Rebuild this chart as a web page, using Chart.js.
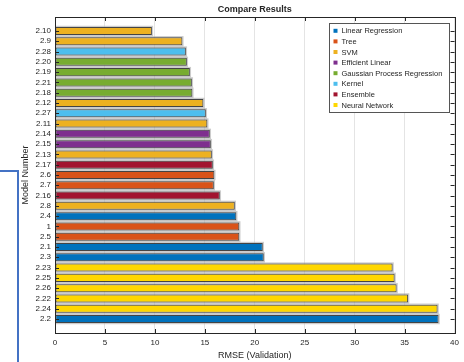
<!DOCTYPE html>
<html>
<head>
<meta charset="utf-8">
<title>Compare Results</title>
<script src="https://cdn.jsdelivr.net/npm/chart.js@4.4.1/dist/chart.umd.min.js"></script>
<style>
  html, body { margin: 0; padding: 0; background: #ffffff; }
  #c { display: block; }
</style>
</head>
<body>
<canvas id="c" width="464" height="362"></canvas>
<script>
// Model numbers, top to bottom
const categories = ['2.10', '2.9', '2.28', '2.20', '2.19', '2.21', '2.18', '2.12', '2.27', '2.11',
  '2.14', '2.15', '2.13', '2.17', '2.6', '2.7', '2.16', '2.8', '2.4', '1',
  '2.5', '2.1', '2.3', '2.23', '2.25', '2.26', '2.22', '2.24', '2.2'];

// Validation RMSE of each model
const rmse = [9.7, 12.75, 13.1, 13.2, 13.5, 13.7, 13.75, 14.85, 15.1, 15.25,
  15.5, 15.6, 15.7, 15.8, 15.95, 15.9, 16.5, 18.0, 18.15, 18.45,
  18.45, 20.8, 20.9, 33.8, 34.0, 34.2, 35.35, 38.3, 38.4];

// Model family of each model (index into modelTypes)
const modelTypeOf = [2, 2, 5, 4, 4, 4, 4, 2, 5, 2,
  3, 3, 2, 6, 1, 1, 6, 2, 0, 1,
  1, 0, 0, 7, 7, 7, 7, 7, 0];

const modelTypes = ['Linear Regression', 'Tree', 'SVM', 'Efficient Linear',
  'Gaussian Process Regression', 'Kernel', 'Ensemble', 'Neural Network'];
const typeColors = ['#0072BD', '#D95319', '#EDB120', '#7E2F8E',
  '#77AC30', '#4DBEEE', '#A2142F', '#FFD700'];

// X axis ticks
const xTicks = [0, 5, 10, 15, 20, 25, 30, 35, 40];

const FONT = "'Liberation Sans', Arial, Helvetica, sans-serif";
const INK = '#262626';

// One dataset per model family; each holds only its own models
const datasets = modelTypes.map((name, t) => ({
  label: name,
  data: categories
    .map((c, i) => ({ x: rmse[i], y: i + 1, t: modelTypeOf[i] }))
    .filter(p => p.t === t)
    .map(p => ({ x: p.x, y: p.y })),
  backgroundColor: typeColors[t],
  borderColor: 'rgba(45,45,45,0.85)',
  borderWidth: 1,
  borderSkipped: false,
  categoryPercentage: 1,
  barPercentage: 0.78
}));

// Light grey halo around each bar
const barHalo = {
  id: 'barHalo',
  beforeDatasetsDraw(chart) {
    const ctx = chart.ctx;
    ctx.save();
    ctx.fillStyle = 'rgba(170,170,170,0.6)';
    chart.data.datasets.forEach((ds, di) => {
      const meta = chart.getDatasetMeta(di);
      meta.data.forEach(bar => {
        const p = bar.getProps(['x', 'y', 'base', 'height'], true);
        const x0 = Math.min(p.base, p.x), x1 = Math.max(p.base, p.x);
        ctx.fillRect(x0, p.y - p.height / 2 - 1.2, x1 - x0 + 1.2, p.height + 2.4);
      });
    });
    ctx.restore();
  }
};

// Box, inward tick marks, titles, legend and the bracket on the left
const frame = {
  id: 'frame',
  afterDraw(chart) {
    const ctx = chart.ctx;
    const a = chart.chartArea;
    const xs = chart.scales.x, ys = chart.scales.y;
    ctx.save();

    // inward tick marks
    ctx.strokeStyle = INK;
    ctx.lineWidth = 1;
    ctx.beginPath();
    xTicks.forEach(v => {
      const px = Math.round(xs.getPixelForValue(v)) + 0.5;
      ctx.moveTo(px, a.bottom); ctx.lineTo(px, a.bottom - 4);
      ctx.moveTo(px, a.top); ctx.lineTo(px, a.top + 4);
    });
    categories.forEach((c, i) => {
      const py = Math.round(ys.getPixelForValue(i + 1)) + 0.5;
      ctx.moveTo(a.left, py); ctx.lineTo(a.left + 4, py);
      ctx.moveTo(a.right, py); ctx.lineTo(a.right - 4, py);
    });
    ctx.stroke();

    // axes box
    ctx.strokeRect(Math.round(a.left) + 0.5, Math.round(a.top) + 0.5,
      Math.round(a.right - a.left), Math.round(a.bottom - a.top));

    // title and axis titles
    ctx.fillStyle = INK;
    ctx.textAlign = 'center';
    ctx.textBaseline = 'middle';
    const cx = (a.left + a.right) / 2;
    ctx.font = 'bold 9px ' + FONT;
    ctx.fillText('Compare Results', cx, 9.5);
    ctx.font = '9px ' + FONT;
    ctx.fillText('RMSE (Validation)', cx, 356);
    ctx.save();
    ctx.translate(25.5, (a.top + a.bottom) / 2);
    ctx.rotate(-Math.PI / 2);
    ctx.fillText('Model Number', 0, 0);
    ctx.restore();

    // legend
    const lx = 329.5, ly = 23.5, lw = 120, lh = 89;
    ctx.fillStyle = '#ffffff';
    ctx.fillRect(lx, ly, lw, lh);
    ctx.strokeStyle = '#555555';
    ctx.strokeRect(lx, ly, lw, lh);
    ctx.font = '7.5px ' + FONT;
    ctx.textAlign = 'left';
    modelTypes.forEach((name, t) => {
      const y = 30.8 + t * 10.6;
      ctx.fillStyle = typeColors[t];
      ctx.fillRect(333.5, y - 2, 4, 4);
      ctx.fillStyle = INK;
      ctx.fillText(name, 341.5, y + 0.5);
    });

    // bracket
    ctx.strokeStyle = '#4472C4';
    ctx.lineWidth = 2;
    ctx.beginPath();
    ctx.moveTo(0, 171);
    ctx.lineTo(18, 171);
    ctx.lineTo(18, 362);
    ctx.stroke();

    ctx.restore();
  }
};

new Chart(document.getElementById('c'), {
  type: 'bar',
  data: { datasets },
  options: {
    indexAxis: 'y',
    responsive: false,
    animation: false,
    devicePixelRatio: 1,
    layout: { padding: { top: 17, right: 8, left: 0, bottom: 0 } },
    plugins: {
      legend: { display: false },
      title: { display: false },
      tooltip: { enabled: false }
    },
    scales: {
      x: {
        type: 'linear',
        min: 0,
        max: 40,
        stacked: true,
        afterBuildTicks(s) { s.ticks = xTicks.map(v => ({ value: v })); },
        afterFit(s) { s.height = 29; },
        grid: { display: true, color: '#e4e4e4', drawTicks: false },
        border: { display: false },
        ticks: {
          padding: 5,
          color: INK,
          font: { family: FONT, size: 8 }
        }
      },
      y: {
        type: 'linear',
        min: 0.17,
        max: 29.83,
        reverse: true,
        stacked: true,
        afterBuildTicks(s) { s.ticks = categories.map((c, i) => ({ value: i + 1 })); },
        afterFit(s) { s.width = 55; },
        grid: { display: false, drawTicks: false },
        border: { display: false },
        ticks: {
          autoSkip: false,
          padding: 4,
          color: INK,
          font: { family: FONT, size: 8 },
          callback: (v) => categories[Math.round(v) - 1] || ''
        }
      }
    }
  },
  plugins: [barHalo, frame]
});
</script>
</body>
</html>
